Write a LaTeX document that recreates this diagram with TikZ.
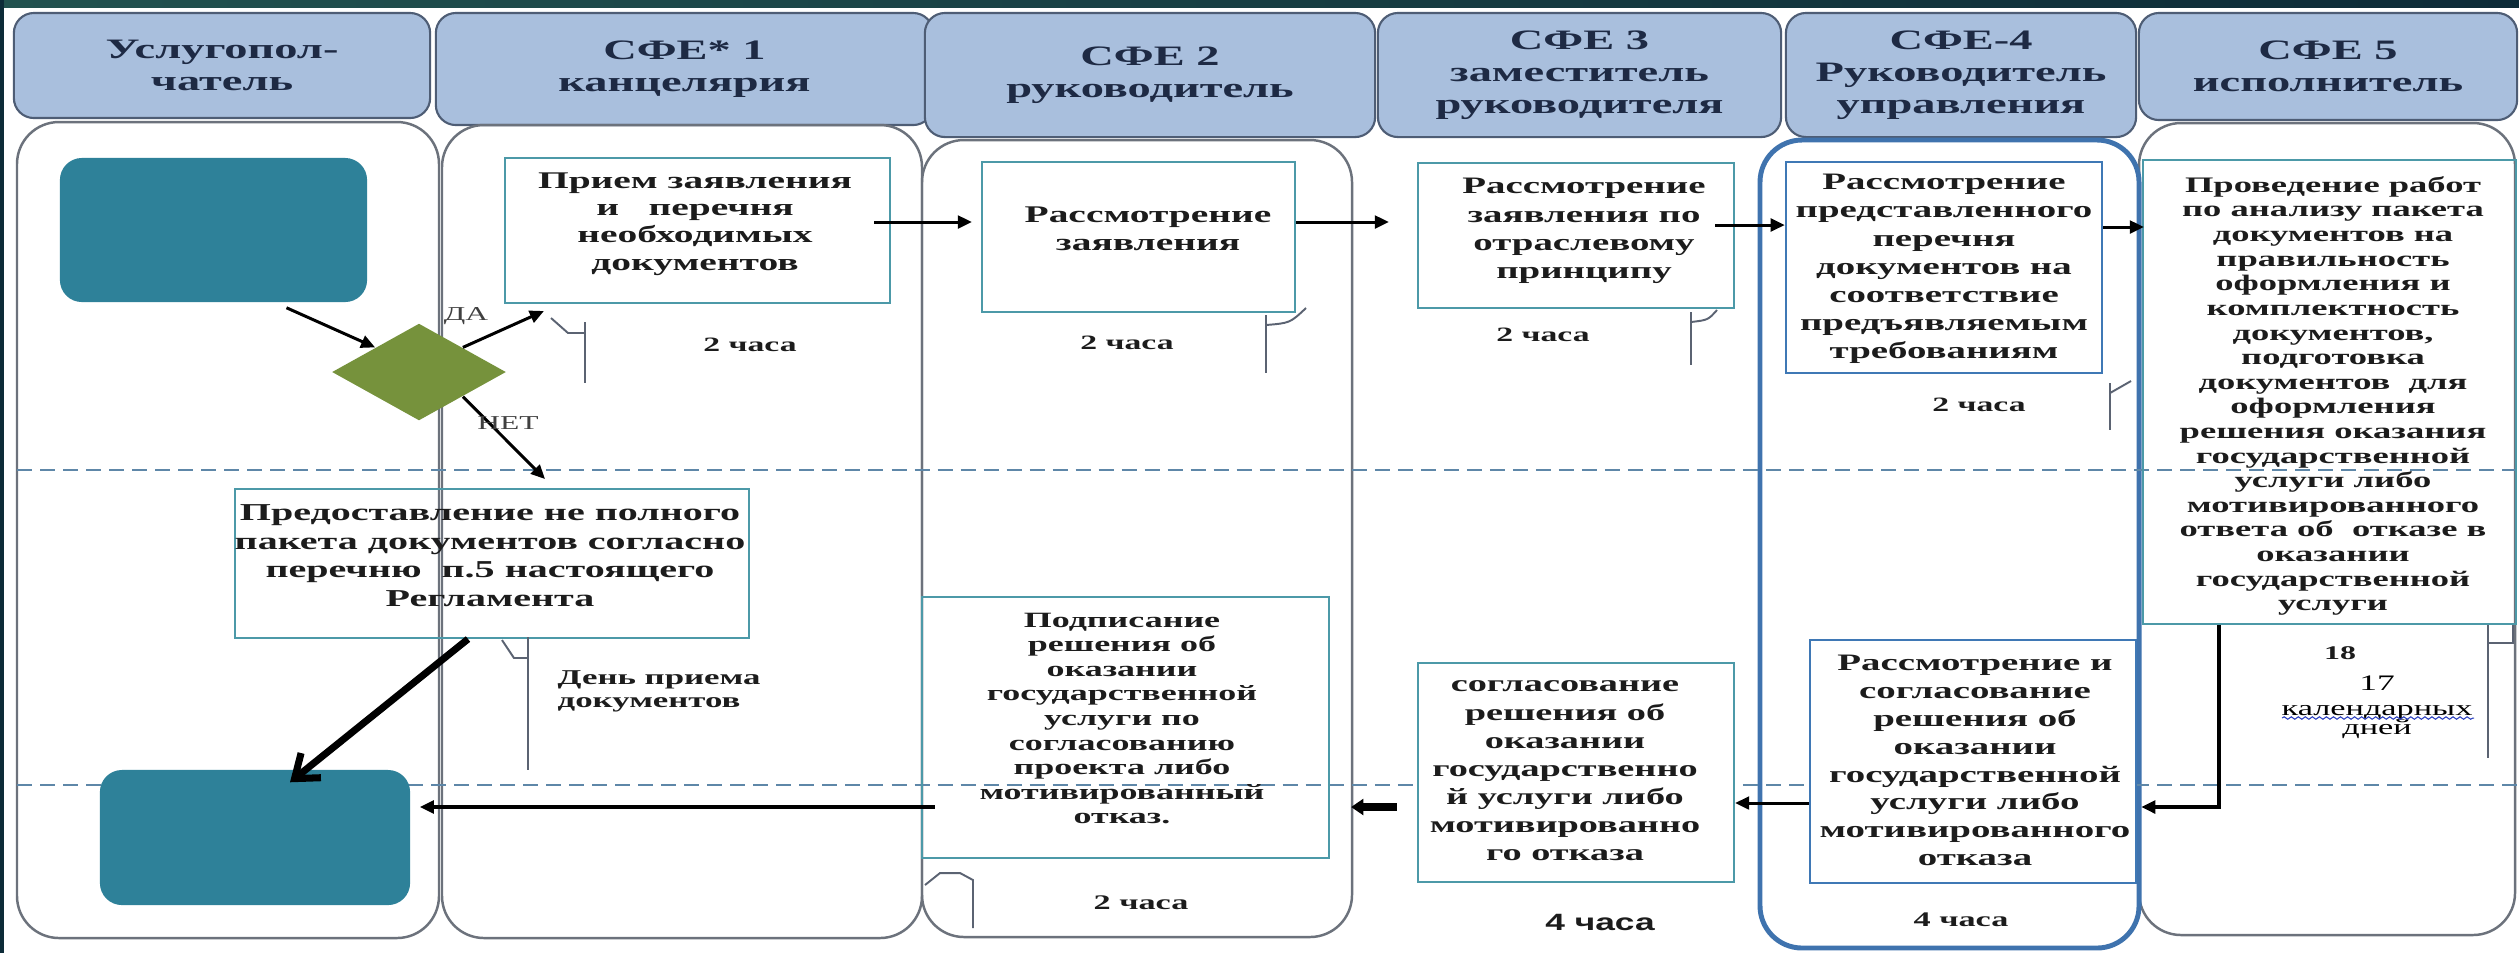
\documentclass[tikz,border=0pt]{standalone}
\usepackage{fontspec}
\setmainfont{Liberation Serif}
\newfontfamily\wser{Liberation Serif}[FakeStretch=1.65]
\newfontfamily\wreg{Liberation Serif}[FakeStretch=1.6]
\newfontfamily\wsans{Liberation Sans}[FakeStretch=1.5]
\usetikzlibrary{arrows.meta,calc,shapes.geometric,decorations.pathmorphing}
\definecolor{hdrfill}{HTML}{A9BFDD}
\definecolor{hdrline}{HTML}{4E5D75}
\definecolor{hdrtext}{HTML}{1E2A44}
\definecolor{laneline}{HTML}{6C727C}
\definecolor{lanefive}{HTML}{3F73AE}
\definecolor{sepcol}{HTML}{5E87A8}
\definecolor{tealline}{HTML}{4C99A8}
\definecolor{blueline}{HTML}{3F78B5}
\definecolor{termcol}{HTML}{2E8199}
\definecolor{diacol}{HTML}{76923C}
\definecolor{brkcol}{HTML}{5B6372}
\definecolor{textcol}{HTML}{1C1C1C}
\definecolor{banddark}{HTML}{0D2B38}
\definecolor{bandlight}{HTML}{22524F}
\definecolor{wavycol}{HTML}{2B3FBF}
\newcommand\fsz[2]{\wser\bfseries\fontsize{#1}{#2}\selectfont}
\begin{document}
\begin{tikzpicture}[x=0.01cm,y=-0.01cm,
  hdr/.style={draw=hdrline, fill=hdrfill, line width=0.6pt, rounded corners=0.2cm, align=center, text=hdrtext, font=\fsz{8}{9.1}, inner sep=0},
  lane/.style={draw=laneline, line width=0.7pt, rounded corners=0.42cm},
  sepline/.style={draw=sepcol, line width=0.45pt, dash pattern=on 0.15cm off 0.08cm},
  tbox/.style={draw=tealline, line width=0.55pt, inner sep=0, fill=white},
  obox/.style={draw=tealline, line width=0.55pt, inner sep=0},
  bbox/.style={draw=blueline, line width=0.65pt, inner sep=0, fill=white},
  term/.style={fill=termcol, rounded corners=0.22cm, inner sep=0},
  arr/.style={line width=0.85pt, -{Triangle[length=4pt,width=3.6pt]}},
  thickarr/.style={line width=2.2pt, -{Triangle[length=3.5pt,width=4.5pt]}},
  bigarr/.style={line width=2pt, -{Straight Barb[length=6pt,width=9pt]}},
  brk/.style={draw=brkcol, line width=0.55pt},
  txt/.style={align=center, inner sep=0, text=textcol}]
\useasboundingbox (0,0) rectangle (2519,953);
\fill[white] (0,0) rectangle (2519,953);
\shade[left color=bandlight, right color=banddark] (0,0) rectangle (2519,7);
\fill[banddark] (0,0) rectangle (4,953);

% headers
\node[hdr, minimum width=4.16cm, minimum height=1.05cm] (h1) at (222,65.5) {Услугопол-\\чатель};
\node[hdr, minimum width=4.97cm, minimum height=1.12cm] (h2) at (684.5,69) {СФЕ* 1\\канцелярия};
\node[hdr, minimum width=4.50cm, minimum height=1.24cm] (h3) at (1150,75) {СФЕ 2\\руководитель};
\node[hdr, minimum width=4.03cm, minimum height=1.24cm] (h4) at (1579.5,75) {СФЕ 3\\заместитель\\руководителя};
\node[hdr, minimum width=3.50cm, minimum height=1.24cm] (h5) at (1961,75) {СФЕ-4\\Руководитель\\управления};
\node[hdr, minimum width=3.78cm, minimum height=1.07cm] (h6) at (2328,66.5) {СФЕ 5\\исполнитель};

% lanes
\draw[lane] (17,122) rectangle (439,938);
\draw[lane] (442,125) rectangle (922,938);
\draw[lane] (922,140) rectangle (1352,937);
\draw[lane] (2139,123) rectangle (2515,935);
\draw[lane, draw=lanefive, line width=1.4pt] (1760,140) rectangle (2139,948);

% separators
\draw[sepline] (17,470) -- (2519,470);
\draw[sepline] (17,785) -- (2519,785);

% terminals and decision
\node[term, minimum width=3.07cm, minimum height=1.44cm] (start) at (213.5,230) {};
\node[term, minimum width=3.10cm, minimum height=1.35cm] (endb) at (255,837.5) {};
\node[diamond, fill=diacol, minimum width=1.74cm, minimum height=0.97cm, inner sep=0, aspect=1.8] (dec) at (419,372) {};

% process boxes
\node[tbox, minimum width=3.85cm, minimum height=1.45cm] (pri) at (697.5,230.5) {};
\node[tbox, minimum width=3.13cm, minimum height=1.50cm] (rz) at (1138.5,237) {};
\node[tbox, minimum width=3.16cm, minimum height=1.45cm] (s3) at (1576,235.5) {};
\node[bbox, minimum width=3.16cm, minimum height=2.11cm] (s4) at (1944,267.5) {};
\node[obox, minimum width=3.73cm, minimum height=4.64cm] (s5) at (2329.5,392) {};
\node[obox, minimum width=5.14cm, minimum height=1.49cm] (pred) at (492,563.5) {};
\node[obox, minimum width=4.07cm, minimum height=2.61cm] (pod) at (1125.5,727.5) {};
\node[tbox, minimum width=3.16cm, minimum height=2.19cm] (sg) at (1576,772.5) {};
\node[bbox, minimum width=3.26cm, minimum height=2.43cm] (r4) at (1973,761.5) {};

% box texts
\node[txt, font=\fsz{6.8}{7.8}] at (695,224) {Прием заявления\\и\ \ \ перечня\\необходимых\\документов};
\node[txt, font=\fsz{6.8}{8}] at (1148,229) {Рассмотрение\\заявления};
\node[txt, font=\fsz{6.7}{8}] at (1584,231) {Рассмотрение\\заявления по\\отраслевому\\принципу};
\node[txt, font=\fsz{6.7}{8}] at (1944,269) {Рассмотрение\\представленного\\перечня\\документов на\\соответствие\\предъявляемым\\требованиям};
\node[txt, font=\fsz{6.3}{7}] at (2333,396) {Проведение работ\\по анализу пакета\\документов на\\правильность\\оформления и\\комплектность\\документов,\\подготовка\\документов\ \ для\\оформления\\решения оказания\\государственной\\услуги либо\\мотивированного\\ответа об\ \ отказе в\\оказании\\государственной\\услуги};
\node[txt, font=\fsz{6.9}{8.1}] at (490,555.5) {Предоставление не полного\\пакета документов согласно\\перечню\ \ п.5 настоящего\\Регламента};
\node[txt, font=\fsz{6.2}{7}] at (1122,718.5) {Подписание\\решения об\\оказании\\государственной\\услуги по\\согласованию\\проекта либо\\мотивированный\\отказ.};
\node[txt, font=\fsz{6.6}{8}] at (1565,771) {согласование\\решения об\\оказании\\государственно\\й услуги либо\\мотивированно\\го отказа};
\node[txt, font=\fsz{6.7}{7.9}] at (1975,760.5) {Рассмотрение и\\согласование\\решения об\\оказании\\государственной\\услуги либо\\мотивированного\\отказа};

% connectors
\draw[arr] ($(start.south)+(73,5)$) -- (dec.north west);
\draw[arr] (dec.north east) -- ($(pri.south west)+(40,7)$);
\draw[arr] (dec.south east) -- ($(pred.north)+(53,-9)$);
\node[txt, text=black!75, font=\wreg\fontsize{5.6}{6}\selectfont] (lda) at (466,316) {ДА};
\node[txt, text=black!75, font=\wreg\fontsize{5.6}{6}\selectfont] (lnet) at (508,423) {НЕТ};
\draw[arr] ($(pri.east)+(-17,-8.5)$) -- ($(rz.west)+(-9,-15)$);
\draw[arr] ($(rz.east)+(0,-15)$) -- ($(s3.west)+(-28,-13.5)$);
\draw[arr] ($(s3.east)+(-20,-10.5)$) -- ($(s4.west)+(0,-42.5)$);
\draw[arr] ($(s4.east)+(0,-40.5)$) -- ($(s5.west)+(2,-165)$);
\draw[arr, line width=1.4pt] ($(s5.south west)+(77,0)$) |- ($(r4.east)+(4,45.5)$);
\draw[arr] ($(r4.west)+(0,41.5)$) -- ($(sg.east)+(0,30.5)$);
\draw[thickarr] ($(sg.west)+(-20,34.5)$) -- ($(pod.east)+(21,79.5)$);
\draw[arr, line width=1.1pt] ($(pod.west)+(14,79.5)$) -- ($(endb.east)+(9,-30.5)$);
\draw[bigarr] ($(pred.south)+(-24,0)$) -- ($(endb.north)+(35,13)$);

% timing brackets
\draw[brk] (551,318) -- (568,333) -- (585,333);
\draw[brk] (585,322) -- (585,383);
\draw[brk] (1266,315) -- (1266,373);
\draw[brk] (1266,325) .. controls (1290,323) .. (1306,308);
\draw[brk] (1691,312) -- (1691,365);
\draw[brk] (1691,322) .. controls (1708,320) .. (1717,310);
\draw[brk] (2110,383) -- (2110,430);
\draw[brk] (2110,393) -- (2131,381);
\draw[brk] (502,640) -- (514,658) -- (528,658);
\draw[brk] (528,637) -- (528,770);
\draw[brk] (925,885) -- (940,873) -- (960,873) -- (973,880) -- (973,928);
\draw[brk] (2488,625) -- (2488,758);
\draw[brk] (2488,643) -- (2513,643) -- (2513,625);

% timing labels
\node[txt, font=\fsz{5.8}{7}] (t1) at (750,345) {2 часа};
\node[txt, font=\fsz{5.8}{7}] (t2) at (1127,343) {2 часа};
\node[txt, font=\fsz{5.8}{7}] (t3) at (1543,335) {2 часа};
\node[txt, font=\fsz{5.8}{7}] (t4) at (1979,405) {2 часа};
\node[txt, font=\fsz{6}{6.6}, align=left, anchor=west] (t5) at (557,691) {День приема\\документов};
\node[txt, font=\fsz{5.9}{7}] (t6) at (1141,903) {2 часа};
\node[txt, font=\fsz{5.9}{7}] (t7) at (1961,920) {4 часа};
\node[txt, font=\wsans\bfseries\fontsize{6.7}{7}\selectfont] (t8) at (1600,922) {4 часа};
\node[txt, font=\fsz{5.5}{6}] (t9) at (2340,653) {18};
\node[txt, font=\wreg\fontsize{6.3}{7}\selectfont, text=black] (t10) at (2377,683) {17};
\node[txt, font=\wreg\fontsize{6.1}{5.6}\selectfont, text=black] (t11) at (2377,722) {календарных\\дней};
\draw[wavycol, line width=0.3pt, decorate, decoration={snake, amplitude=0.35pt, segment length=2pt}] (2282,718) -- (2474,718);
\end{tikzpicture}
\end{document}
